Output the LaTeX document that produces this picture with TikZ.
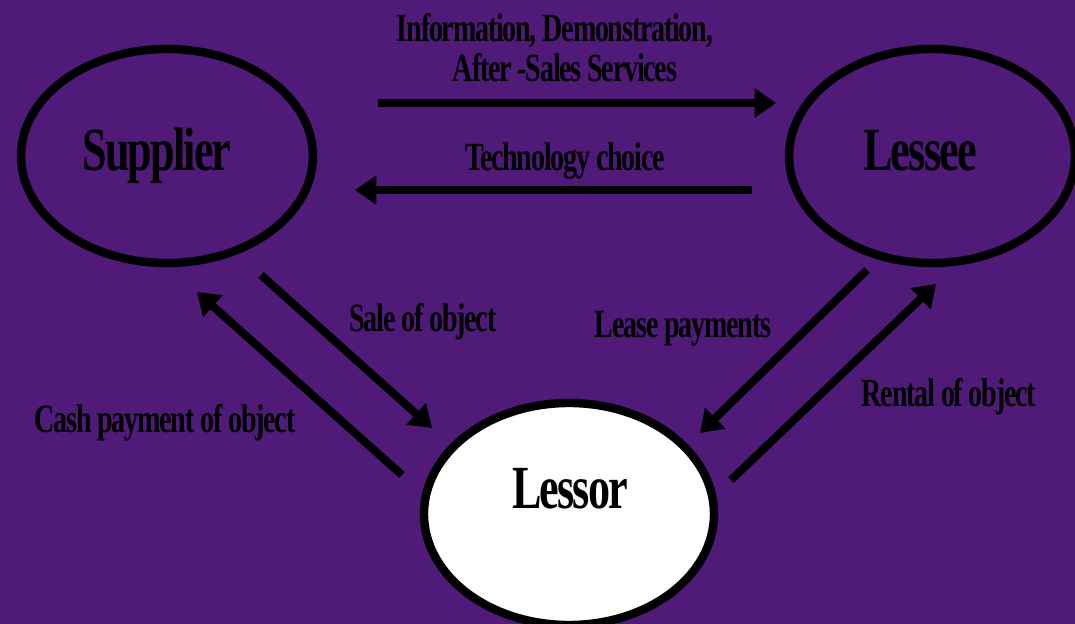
\documentclass[tikz,border=0pt]{standalone}
\usepackage{fontspec}
\usepackage{tikz}
\usetikzlibrary{arrows.meta,shapes.geometric}
\newfontfamily\lblfont[FakeStretch=0.7,LetterSpace=-3]{Liberation Serif}
\newfontfamily\bigfont[FakeStretch=0.72,LetterSpace=-3]{Liberation Serif}
\definecolor{bgpurple}{RGB}{79,26,120}
\begin{document}
\begin{tikzpicture}[x=0.75pt,y=-0.75pt,
   ell/.style={draw=black,ellipse,line width=6.3pt,inner sep=0pt,
               minimum width=219pt,minimum height=160.5pt},
   big/.style={font=\bigfont\bfseries\fontsize{46}{48}\selectfont,anchor=base,inner sep=0pt},
   lbl/.style={font=\lblfont\bfseries\fontsize{30}{32}\selectfont,anchor=base,inner sep=0pt},
   ar/.style={-{Triangle[length=16pt,width=21pt]},line width=6pt}]

% background
\fill[bgpurple] (0,0) rectangle (1075,624);
\useasboundingbox (0,0) rectangle (1075,624);
\clip (0,0) rectangle (1075,624);

% three parties
\node[ell] (supplier) at (167,156) {};
\node[ell,minimum width=214.5pt] (lessee) at (932,156) {};
\node[ell,fill=white,minimum width=217.5pt,minimum height=166.5pt] (lessor) at (569,514) {};
\node[big] (suppliertxt) at (157,171) {Supplier};
\node[big] (lesseetxt) at (920,171) {Lessee};
\node[big] (lessortxt) at (570,508) {Lessor};

% arrow ends
\coordinate (infoA) at (378,103);   \coordinate (infoB) at (776,103);
\coordinate (techA) at (752,190);   \coordinate (techB) at (355,190);
\coordinate (saleA) at (261,275);   \coordinate (saleB) at (432,428);
\coordinate (cashA) at (402,475);   \coordinate (cashB) at (197,292);
\coordinate (leaseA) at (867,270);  \coordinate (leaseB) at (700,433);
\coordinate (rentA) at (731,480);   \coordinate (rentB) at (936,284);

\draw[ar] (infoA) -- (infoB);
\draw[ar] (techA) -- (techB);
\draw[ar] (saleA) -- (saleB);
\draw[ar] (cashA) -- (cashB);
\draw[ar] (leaseA) -- (leaseB);
\draw[ar] (rentA) -- (rentB);

% labels
\node[lbl] (info1) at (555,42) {Information, Demonstration,};
\node[lbl] (info2) at (565,82) {After -Sales Services};
\node[lbl] (tech) at (565,171) {Technology choice};
\node[lbl] (sale) at (423,331) {Sale of object};
\node[lbl] (lease) at (683,337) {Lease payments};
\node[lbl] (rent) at (949,406) {Rental of object};
\node[lbl] (cash) at (165,432) {Cash payment of object};
\end{tikzpicture}
\end{document}
